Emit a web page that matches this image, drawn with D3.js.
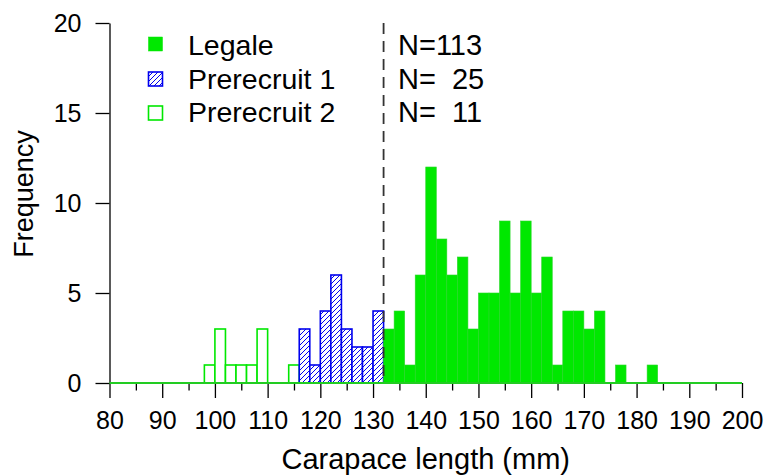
<!DOCTYPE html>
<html>
<head>
<meta charset="utf-8">
<script src="https://cdn.jsdelivr.net/npm/d3@7"></script>
<style>
  html, body { margin: 0; padding: 0; background: #fff; }
  svg { display: block; font-family: "Liberation Sans", Arial, sans-serif; }
  text { white-space: pre; }
</style>
</head>
<body>
<svg id="chart" width="764" height="475"></svg>
<script>
// ---- data ----
const legaleBins = [132,134,136,138,140,142,144,146,148,150,152,154,156,158,160,162,164,166,168,170,172,174,176,178,180,182];
const legaleCounts = [3,4,1,6,12,8,6,7,3,5,5,9,5,9,5,7,1,4,4,3,4,0,1,0,0,1];
const pre1Bins = [116,118,120,122,124,126,128,130];
const pre1Counts = [3,1,4,6,3,2,2,4];
const pre2Bins = [98,100,102,104,106,108,110,112,114];
const pre2Counts = [1,3,1,1,1,3,0,0,1];
const binWidth = 2;
const legendLabels = ["Legale", "Prerecruit 1", "Prerecruit 2"];
const legendN = ["N=113", "N=  25", "N=  11"];
const cutoff = 132;
const xTicksMajor = [80,90,100,110,120,130,140,150,160,170,180,190,200];
const xTicksMinor = [85,95,105,115,125,135,145,155,165,175,185,195];
const yTicks = [0,5,10,15,20];

// ---- setup ----
const svg = d3.select("#chart");
const x = d3.scaleLinear().domain([80, 200]).range([109.5, 742]);
const y = d3.scaleLinear().domain([0, 20]).range([383, 23]);

const GREEN = "#00e800";
const GREEN_LINE = "#22cc22";
const BLUE = "#0000ee";

const defs = svg.append("defs");
const pat = defs.append("pattern")
  .attr("id", "hatch").attr("patternUnits", "userSpaceOnUse")
  .attr("width", 5).attr("height", 5);
pat.append("rect").attr("width", 5).attr("height", 5).attr("fill", "#fff");
pat.append("path").attr("d", "M0,5 L5,0 M-1,1 L1,-1 M4,6 L6,4")
  .attr("stroke", BLUE).attr("stroke-width", 1);

// ---- axes ----
const yAxis = svg.append("g").attr("transform", `translate(${x(80)},0)`)
  .call(d3.axisLeft(y).tickValues(yTicks).tickSize(14).tickSizeOuter(0).tickPadding(14));
yAxis.select(".domain").attr("stroke", "#000").attr("stroke-width", 1.3);
yAxis.selectAll(".tick line").attr("stroke", "#000").attr("stroke-width", 1.3);
yAxis.selectAll(".tick text").attr("font-size", 25).attr("fill", "#000")
  .attr("font-family", "Liberation Sans, Arial, sans-serif");

const xAxis = svg.append("g").attr("transform", `translate(0,${y(0)})`)
  .call(d3.axisBottom(x).tickValues(xTicksMajor).tickSize(15).tickSizeOuter(0).tickPadding(14));
xAxis.select(".domain").remove();
xAxis.selectAll(".tick line").attr("stroke", "#000").attr("stroke-width", 1.3);
xAxis.selectAll(".tick text").attr("font-size", 25).attr("fill", "#000")
  .attr("font-family", "Liberation Sans, Arial, sans-serif").attr("dy", "0.68em");

const xMinor = svg.append("g").attr("transform", `translate(0,${y(0)})`)
  .call(d3.axisBottom(x).tickValues(xTicksMinor).tickSize(7.5).tickSizeOuter(0).tickFormat(""));
xMinor.select(".domain").remove();
xMinor.selectAll(".tick line").attr("stroke", "#000").attr("stroke-width", 1.3);

// ---- bars ----
function drawBars(bins, counts, cls, fill, stroke, sw) {
  const data = bins.map((b, i) => ({ b, c: counts[i] })).filter(d => d.c > 0);
  svg.append("g").attr("class", cls).selectAll("rect").data(data).join("rect")
    .attr("x", d => x(d.b))
    .attr("width", d => x(d.b + binWidth) - x(d.b))
    .attr("y", d => y(d.c))
    .attr("height", d => y(0) - y(d.c))
    .attr("fill", fill).attr("stroke", stroke).attr("stroke-width", sw);
}
drawBars(pre2Bins, pre2Counts, "pre2", "#fff", GREEN, 1.6);
drawBars(pre1Bins, pre1Counts, "pre1", "url(#hatch)", BLUE, 1.6);
drawBars(legaleBins, legaleCounts, "legale", GREEN, "#2ad62a", 0.6);

// green baseline
svg.append("line")
  .attr("x1", x(80)).attr("x2", x(200)).attr("y1", y(0)).attr("y2", y(0))
  .attr("stroke", GREEN_LINE).attr("stroke-width", 2);

// dashed cutoff
svg.append("line")
  .attr("x1", x(cutoff)).attr("x2", x(cutoff)).attr("y1", y(20)).attr("y2", y(0))
  .attr("stroke", "#333").attr("stroke-width", 1.8).attr("stroke-dasharray", "11,7");

// ---- axis titles ----
svg.append("text").attr("x", (x(80) + x(200)) / 2).attr("y", 469)
  .attr("text-anchor", "middle").attr("font-size", 29).attr("fill", "#000")
  .text("Carapace length (mm)");
svg.append("text").attr("transform", "translate(33,194) rotate(-90)")
  .attr("text-anchor", "middle").attr("font-size", 27).attr("fill", "#000")
  .text("Frequency");

// ---- legend ----
const legY = [37, 72, 106];
const legBase = [55, 88.5, 122];
const sw = [
  { fill: GREEN, stroke: GREEN, w: 0.5 },
  { fill: "url(#hatch)", stroke: BLUE, w: 1.6 },
  { fill: "#fff", stroke: GREEN, w: 1.6 }
];
legendLabels.forEach((lab, i) => {
  svg.append("rect").attr("x", 148.5).attr("y", legY[i]).attr("width", 14).attr("height", 14)
    .attr("fill", sw[i].fill).attr("stroke", sw[i].stroke).attr("stroke-width", sw[i].w);
  svg.append("text").attr("x", 188).attr("y", legBase[i]).attr("font-size", 28.5).attr("fill", "#000").text(lab);
  svg.append("text").attr("x", 398).attr("y", legBase[i]).attr("font-size", 29).attr("fill", "#000").text(legendN[i]);
});
</script>
</body>
</html>
